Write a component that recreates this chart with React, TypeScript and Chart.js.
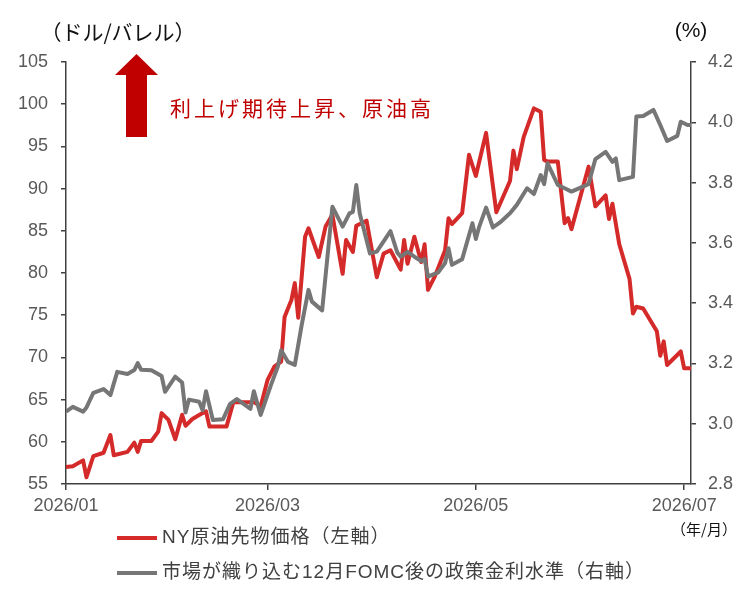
import React, { useEffect, useRef } from 'react';
import { Chart, registerables } from 'chart.js';

Chart.register(...registerables);

// NY crude oil futures (USD/barrel)
const oilDates = [
  '2026-01-01', '2026-01-03', '2026-01-06', '2026-01-07', '2026-01-09', '2026-01-12', '2026-01-14', '2026-01-15',
  '2026-01-19', '2026-01-21', '2026-01-22', '2026-01-23', '2026-01-26', '2026-01-28', '2026-01-29', '2026-01-31',
  '2026-02-02', '2026-02-04', '2026-02-05', '2026-02-07', '2026-02-10', '2026-02-11', '2026-02-12', '2026-02-17',
  '2026-02-19', '2026-02-25', '2026-02-27', '2026-03-01', '2026-03-03', '2026-03-05', '2026-03-06', '2026-03-08',
  '2026-03-09', '2026-03-10', '2026-03-12', '2026-03-13', '2026-03-16', '2026-03-18', '2026-03-20', '2026-03-23',
  '2026-03-24', '2026-03-26', '2026-03-27', '2026-03-30', '2026-04-02', '2026-04-04', '2026-04-06', '2026-04-09',
  '2026-04-10', '2026-04-11', '2026-04-13', '2026-04-15', '2026-04-16', '2026-04-17', '2026-04-19', '2026-04-22',
  '2026-04-23', '2026-04-24', '2026-04-27', '2026-04-29', '2026-05-01', '2026-05-04', '2026-05-07', '2026-05-11',
  '2026-05-12', '2026-05-13', '2026-05-15', '2026-05-18', '2026-05-20', '2026-05-21', '2026-05-22', '2026-05-25',
  '2026-05-27', '2026-05-28', '2026-05-29', '2026-06-03', '2026-06-05', '2026-06-08', '2026-06-09', '2026-06-10',
  '2026-06-12', '2026-06-15', '2026-06-16', '2026-06-17', '2026-06-19', '2026-06-23', '2026-06-24', '2026-06-25',
  '2026-06-26', '2026-06-30', '2026-07-01', '2026-07-03',
];
const oilPrice = [
  57.0, 57.1, 57.8, 55.8, 58.3, 58.7, 60.8, 58.4,
  58.8, 59.9, 58.8, 60.1, 60.1, 61.2, 63.4, 62.6,
  60.3, 63.2, 61.9, 62.7, 63.4, 63.6, 61.8, 61.8,
  64.7, 64.7, 64.2, 67.3, 68.9, 69.5, 74.8, 76.8,
  78.8, 74.7, 84.3, 85.3, 81.9, 85.5, 86.9, 79.9,
  83.9, 82.5, 85.6, 86.2, 79.5, 82.3, 82.7, 80.4,
  83.9, 81.1, 84.3, 81.3, 83.4, 78.0, 79.6, 82.7,
  86.5, 85.8, 87.1, 94.0, 91.5, 96.6, 87.2, 90.9,
  94.5, 92.3, 96.1, 99.5, 99.1, 93.4, 93.2, 93.2,
  85.9, 86.5, 85.2, 92.6, 87.9, 89.2, 86.4, 88.2,
  83.4, 79.3, 75.2, 76.0, 75.8, 73.1, 70.2, 71.9,
  69.1, 70.7, 68.7, 68.7,
];

// Policy rate after the December FOMC priced in by the market (%)
const rateDates = [
  '2026-01-01', '2026-01-03', '2026-01-06', '2026-01-07', '2026-01-09', '2026-01-12', '2026-01-14', '2026-01-16',
  '2026-01-19', '2026-01-21', '2026-01-22', '2026-01-23', '2026-01-26', '2026-01-29', '2026-01-30', '2026-02-02',
  '2026-02-04', '2026-02-05', '2026-02-06', '2026-02-09', '2026-02-10', '2026-02-11', '2026-02-13', '2026-02-16',
  '2026-02-18', '2026-02-20', '2026-02-24', '2026-02-25', '2026-02-27', '2026-03-02', '2026-03-04', '2026-03-05',
  '2026-03-07', '2026-03-09', '2026-03-11', '2026-03-13', '2026-03-14', '2026-03-17', '2026-03-20', '2026-03-23',
  '2026-03-25', '2026-03-26', '2026-03-27', '2026-03-28', '2026-03-31', '2026-04-02', '2026-04-06', '2026-04-08',
  '2026-04-09', '2026-04-11', '2026-04-13', '2026-04-15', '2026-04-16', '2026-04-17', '2026-04-20', '2026-04-22',
  '2026-04-23', '2026-04-24', '2026-04-27', '2026-04-30', '2026-05-01', '2026-05-02', '2026-05-04', '2026-05-06',
  '2026-05-08', '2026-05-11', '2026-05-13', '2026-05-16', '2026-05-18', '2026-05-20', '2026-05-21', '2026-05-22',
  '2026-05-25', '2026-05-27', '2026-05-29', '2026-06-03', '2026-06-05', '2026-06-08', '2026-06-10', '2026-06-11',
  '2026-06-12', '2026-06-16', '2026-06-17', '2026-06-19', '2026-06-22', '2026-06-24', '2026-06-26', '2026-06-29',
  '2026-06-30', '2026-07-02', '2026-07-03',
];
const fomcRate = [
  3.040, 3.056, 3.040, 3.054, 3.102, 3.115, 3.095, 3.172,
  3.165, 3.178, 3.201, 3.179, 3.177, 3.158, 3.106, 3.156,
  3.137, 3.037, 3.080, 3.073, 3.045, 3.108, 3.012, 3.015,
  3.065, 3.082, 3.049, 3.108, 3.029, 3.128, 3.189, 3.244,
  3.205, 3.195, 3.327, 3.444, 3.405, 3.376, 3.720, 3.654,
  3.698, 3.703, 3.792, 3.698, 3.565, 3.571, 3.639, 3.568,
  3.554, 3.570, 3.554, 3.540, 3.546, 3.488, 3.502, 3.533,
  3.582, 3.527, 3.546, 3.665, 3.613, 3.654, 3.717, 3.651,
  3.667, 3.698, 3.726, 3.781, 3.762, 3.825, 3.795, 3.864,
  3.792, 3.781, 3.770, 3.795, 3.878, 3.902, 3.869, 3.880,
  3.808, 3.819, 4.019, 4.021, 4.041, 3.991, 3.938, 3.955,
  4.002, 3.991, 3.991,
];

// Axis settings
const xStartDate = '2026-01-01';
const xEndDate = '2026-07-03';
const monthTickDates = ['2026-01-01', '2026-03-01', '2026-05-01', '2026-07-01'];
const monthTickLabels = ['2026/01', '2026/03', '2026/05', '2026/07'];
const oilAxis = { min: 55, max: 105, step: 5 };
const rateAxis = { min: 2.8, max: 4.2, step: 0.2 };

// Texts
const oilUnit = '（ドル/バレル）';
const rateUnit = '(%)';
const dateUnit = '（年/月）';
const noteText = '利上げ期待上昇、原油高';
const seriesNames = ['NY原油先物価格（左軸）', '市場が織り込む12月FOMC後の政策金利水準（右軸）'];

const RED = '#D42A2A';
const GRAY = '#767676';
const DARK_RED = '#C00000';
const AXIS = '#404040';
const TICK_TEXT = '#595959';
const LATIN = "'Liberation Sans', Arial, 'Noto Sans CJK JP', sans-serif";
const CJK = "'Noto Sans CJK JP', 'Liberation Sans', sans-serif";

const DAY_MS = 86400000;
const dayOf = (s: string) => {
  const [y, m, d] = s.split('-').map(Number);
  const [y0, m0, d0] = xStartDate.split('-').map(Number);
  return (Date.UTC(y, m - 1, d) - Date.UTC(y0, m0 - 1, d0)) / DAY_MS;
};

const monthTickDays = monthTickDates.map(dayOf);

const decorations = {
  id: 'decorations',
  afterDraw(chart: any) {
    const ctx: CanvasRenderingContext2D = chart.ctx;
    const area = chart.chartArea;
    ctx.save();

    // unit captions
    ctx.fillStyle = '#111';
    ctx.textBaseline = 'middle';
    ctx.textAlign = 'center';
    ctx.font = `21px ${CJK}`;
    ctx.fillText(oilUnit, 118, 32);
    ctx.font = `21px ${LATIN}`;
    ctx.fillText(rateUnit, area.right, 31);
    ctx.font = `15px ${CJK}`;
    ctx.fillText(dateUnit, 704, 529);

    // up arrow
    ctx.fillStyle = DARK_RED;
    ctx.beginPath();
    ctx.moveTo(136.5, 54);
    ctx.lineTo(158, 75);
    ctx.lineTo(147, 75);
    ctx.lineTo(147, 137);
    ctx.lineTo(126, 137);
    ctx.lineTo(126, 75);
    ctx.lineTo(115, 75);
    ctx.closePath();
    ctx.fill();

    // note
    ctx.textAlign = 'left';
    ctx.font = `21px ${CJK}`;
    (ctx as any).letterSpacing = '3px';
    ctx.fillText(noteText, 170, 108);

    // legend
    (ctx as any).letterSpacing = '1px';
    const rows = [
      { color: RED, y: 538, text: seriesNames[0] },
      { color: GRAY, y: 573, text: seriesNames[1] },
    ];
    for (const r of rows) {
      ctx.strokeStyle = r.color;
      ctx.lineWidth = 4;
      ctx.lineCap = 'butt';
      ctx.beginPath();
      ctx.moveTo(117, r.y);
      ctx.lineTo(157, r.y);
      ctx.stroke();
      ctx.fillStyle = AXIS;
      ctx.font = `19px ${LATIN}`;
      ctx.fillText(r.text, 162, r.y);
    }
    (ctx as any).letterSpacing = '0px';
    ctx.restore();
  },
};

export default function App() {
  const canvasRef = useRef<HTMLCanvasElement>(null);

  useEffect(() => {
    const canvas = canvasRef.current;
    if (!canvas) return;
    const chart = new Chart(canvas, {
      type: 'line',
      data: {
        datasets: [
          {
            label: seriesNames[0],
            data: oilDates.map((d, i) => ({ x: dayOf(d), y: oilPrice[i] })),
            yAxisID: 'y',
            borderColor: RED,
            borderWidth: 4,
            pointRadius: 0,
            tension: 0,
            borderJoinStyle: 'round',
            order: 1,
          },
          {
            label: seriesNames[1],
            data: rateDates.map((d, i) => ({ x: dayOf(d), y: fomcRate[i] })),
            yAxisID: 'y1',
            borderColor: GRAY,
            borderWidth: 4,
            pointRadius: 0,
            tension: 0,
            borderJoinStyle: 'round',
            order: 0,
          },
        ],
      },
      options: {
        animation: false,
        responsive: false,
        devicePixelRatio: 1,
        layout: { padding: { top: 62, left: 0, right: 0, bottom: 0 } },
        plugins: { legend: { display: false }, tooltip: { enabled: false } },
        scales: {
          x: {
            type: 'linear',
            min: dayOf(xStartDate),
            max: dayOf(xEndDate),
            afterBuildTicks: (scale: any) => {
              scale.ticks = monthTickDays.map((v) => ({ value: v }));
            },
            afterFit: (scale: any) => {
              scale.height = 109;
            },
            ticks: {
              autoSkip: false,
              maxRotation: 0,
              padding: 5,
              color: TICK_TEXT,
              font: { family: LATIN, size: 18 },
              callback: (v: any) => {
                const i = monthTickDays.indexOf(Number(v));
                return i >= 0 ? monthTickLabels[i] : '';
              },
            },
            grid: { drawOnChartArea: false, drawTicks: true, tickLength: 6, color: AXIS, lineWidth: 1.5 },
            border: { display: true, color: AXIS, width: 1.5 },
          },
          y: {
            position: 'left',
            min: oilAxis.min,
            max: oilAxis.max,
            afterFit: (scale: any) => {
              scale.width = 66;
            },
            ticks: {
              stepSize: oilAxis.step,
              padding: 13,
              color: TICK_TEXT,
              font: { family: LATIN, size: 18 },
            },
            grid: { drawOnChartArea: false, drawTicks: true, tickLength: 5, color: AXIS, lineWidth: 1.5 },
            border: { display: true, color: AXIS, width: 1.5 },
          },
          y1: {
            position: 'right',
            min: rateAxis.min,
            max: rateAxis.max,
            afterFit: (scale: any) => {
              scale.width = 65;
            },
            ticks: {
              stepSize: rateAxis.step,
              padding: 12,
              color: TICK_TEXT,
              font: { family: LATIN, size: 18 },
              callback: (v: any) => Number(v).toFixed(1),
            },
            grid: { drawOnChartArea: false, drawTicks: true, tickLength: 5, color: AXIS, lineWidth: 1.5 },
            border: { display: true, color: AXIS, width: 1.5 },
          },
        },
      } as any,
      plugins: [decorations],
    });
    return () => chart.destroy();
  }, []);

  return (
    <canvas
      ref={canvasRef}
      width={756}
      height={593}
      style={{ position: 'absolute', left: 0, top: 0, display: 'block', background: '#fff' }}
    />
  );
}
